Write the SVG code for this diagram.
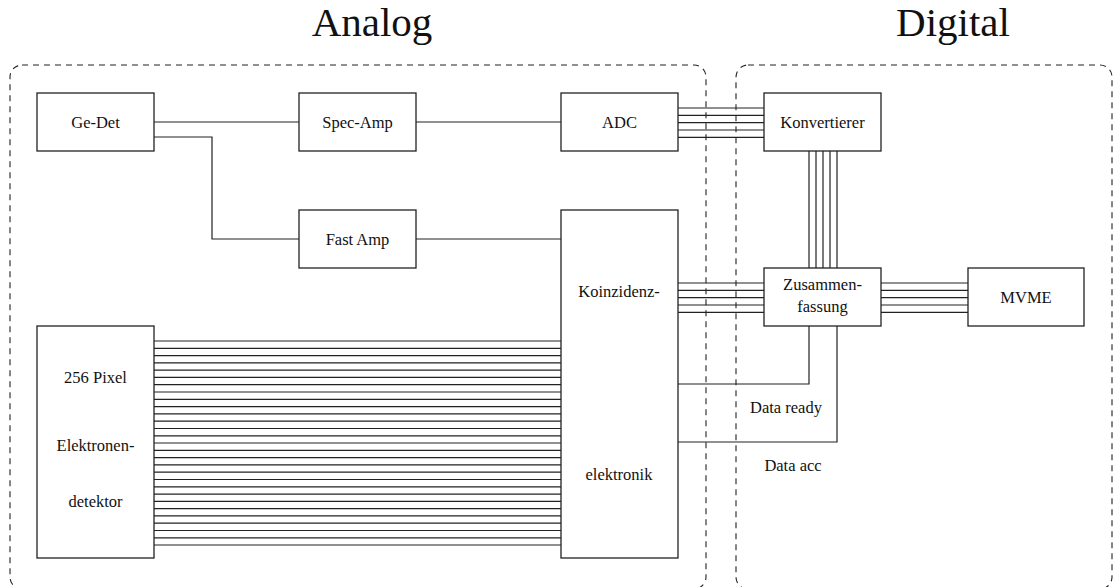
<svg xmlns="http://www.w3.org/2000/svg" width="1113" height="587" viewBox="0 0 1113 587">
  <style>
    .box { fill: #fff; stroke: #222; stroke-width: 1.3; }
    .region { fill: none; stroke: #222; stroke-width: 1.1; stroke-dasharray: 6 5; }
    .wire { fill: none; stroke: #222; stroke-width: 1.2; }
    .lbl { font-family: "Liberation Serif", "Times New Roman", serif; font-size: 16.5px; fill: #111; text-anchor: middle; }
    .title { font-family: "Liberation Serif", "Times New Roman", serif; font-size: 41px; fill: #111; text-anchor: middle; }
  </style>
  <rect width="1113" height="587" fill="#fff"/>

  <!-- region frames -->
  <g id="regions">
    <rect class="region" x="10" y="65" width="696" height="524" rx="12"/>
    <rect class="region" x="736" y="65" width="376" height="524" rx="12"/>
    <text class="title" x="372" y="36">Analog</text>
    <text class="title" x="953" y="36">Digital</text>
  </g>

  <!-- connectors -->
  <g id="connectors">
    <path class="wire" d="M154 122H299 M416 122H561 M154 137H212V239H299 M416 239H561"/>
    <!-- ADC to Konvertierer bus -->
    <path class="wire" d="M678 108H764 M678 115.3H764 M678 122.6H764 M678 130H764 M678 137.3H764"/>
    <!-- Konvertierer to Zusammenfassung bus -->
    <path class="wire" d="M809 151V268 M816 151V268 M823 151V268 M830 151V268 M837 151V268"/>
    <!-- Koinzidenz to Zusammenfassung bus -->
    <path class="wire" d="M678 283H764 M678 290.3H764 M678 297.6H764 M678 305H764 M678 312.3H764"/>
    <!-- Zusammenfassung to MVME bus -->
    <path class="wire" d="M881 283H968 M881 290.3H968 M881 297.6H968 M881 305H968 M881 312.3H968"/>
    <!-- handshake lines -->
    <path class="wire" d="M678 384H809V326 M678 442H837V326"/>
    <!-- pixel lines -->
    <path class="wire" d="M154 341H561 M154 348.3H561 M154 355.6H561 M154 362.9H561 M154 370.2H561 M154 377.4H561 M154 384.7H561 M154 392H561 M154 399.3H561 M154 406.6H561 M154 413.9H561 M154 421.2H561 M154 428.5H561 M154 435.8H561 M154 443H561 M154 450.3H561 M154 457.6H561 M154 464.9H561 M154 472.2H561 M154 479.5H561 M154 486.8H561 M154 494.1H561 M154 501.4H561 M154 508.6H561 M154 515.9H561 M154 523.2H561 M154 530.5H561 M154 537.8H561 M154 545H561"/>
  </g>

  <g id="ge-det">
    <rect class="box" x="37" y="93" width="117" height="58"/>
    <text class="lbl" x="95.5" y="128">Ge-Det</text>
  </g>
  <g id="spec-amp">
    <rect class="box" x="299" y="93" width="117" height="58"/>
    <text class="lbl" x="357.5" y="128">Spec-Amp</text>
  </g>
  <g id="adc">
    <rect class="box" x="561" y="93" width="117" height="58"/>
    <text class="lbl" x="619.5" y="128">ADC</text>
  </g>
  <g id="konvertierer">
    <rect class="box" x="764" y="93" width="117" height="58"/>
    <text class="lbl" x="822.5" y="128">Konvertierer</text>
  </g>
  <g id="fast-amp">
    <rect class="box" x="299" y="210" width="117" height="58"/>
    <text class="lbl" x="357.5" y="245">Fast Amp</text>
  </g>
  <g id="koinzidenz">
    <rect class="box" x="561" y="210" width="117" height="348"/>
    <text class="lbl" x="619" y="297">Koinzidenz-</text>
    <text class="lbl" x="619" y="480">elektronik</text>
  </g>
  <g id="zusammenfassung">
    <rect class="box" x="764" y="268" width="117" height="58"/>
    <text class="lbl" x="822.5" y="290">Zusammen-</text>
    <text class="lbl" x="822.5" y="312">fassung</text>
  </g>
  <g id="mvme">
    <rect class="box" x="968" y="268" width="116" height="58"/>
    <text class="lbl" x="1026" y="303">MVME</text>
  </g>
  <g id="pixel-detector">
    <rect class="box" x="37" y="326" width="117" height="232"/>
    <text class="lbl" x="95.5" y="383">256 Pixel</text>
    <text class="lbl" x="95.5" y="451">Elektronen-</text>
    <text class="lbl" x="95.5" y="507">detektor</text>
  </g>
  <g id="signal-labels">
    <text class="lbl" x="786" y="413">Data ready</text>
    <text class="lbl" x="793" y="471">Data acc</text>
  </g>
</svg>
